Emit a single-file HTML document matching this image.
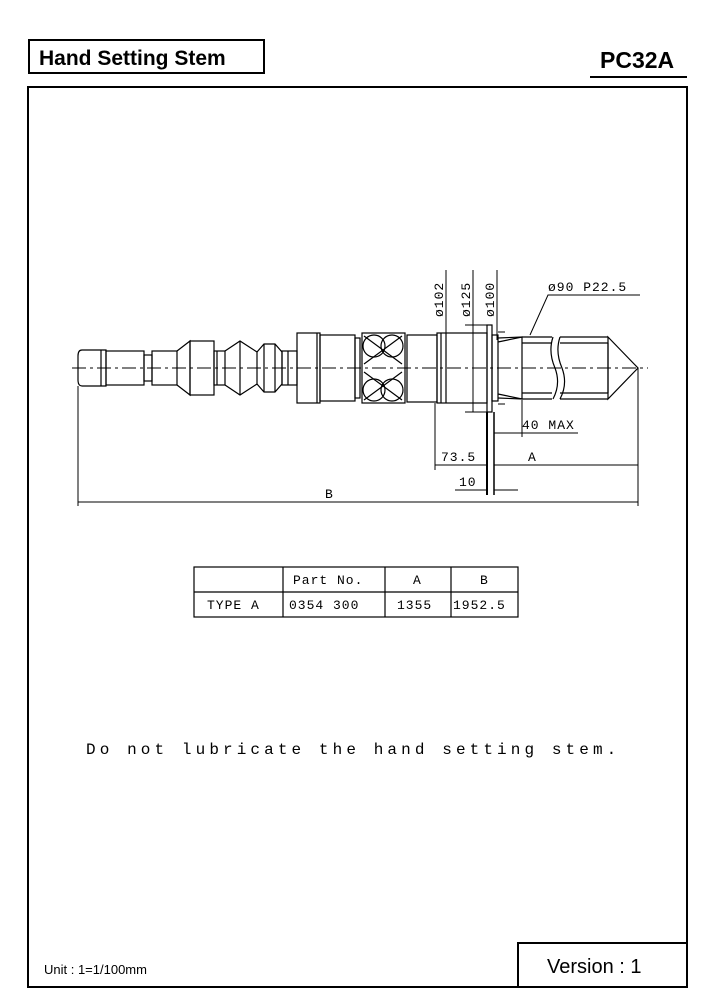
<!DOCTYPE html><html><head><style>body{margin:0;background:#fff}svg{display:block}</style></head><body>
<svg width="717" height="1000" viewBox="0 0 717 1000" xmlns="http://www.w3.org/2000/svg" font-family="Liberation Sans, sans-serif">
<rect x="29" y="40" width="235" height="33" fill="none" stroke="#000" stroke-width="2"/>
<text x="39" y="65" font-size="21" font-weight="bold">Hand Setting Stem</text>
<text x="600" y="68" font-size="23" font-weight="bold">PC32A</text>
<line x1="590" y1="77" x2="687" y2="77" stroke="#000" stroke-width="2"/>
<rect x="28" y="87" width="659" height="900" fill="none" stroke="#000" stroke-width="2"/>
<rect x="518" y="943" width="169" height="44" fill="none" stroke="#000" stroke-width="2"/>
<text x="547" y="973" font-size="20">Version :  1</text>
<text x="44" y="974" font-size="13">Unit  : 1=1/100mm</text>
<g fill="none" stroke="#000" stroke-width="1.2">
<line x1="72" y1="368" x2="648" y2="368" stroke-dasharray="14,4,3,4" stroke-width="1"/>
<path d="M82,350 H106 V386 H82 Q78,386 78,380 V356 Q78,350 82,350Z"/>
<line x1="101" y1="350" x2="101" y2="386"/>
<rect x="106" y="351" width="38" height="34"/>
<rect x="144" y="355" width="8" height="26"/>
<rect x="152" y="351" width="25" height="34"/>
<path d="M177,351 L190,341 V395 L177,385"/>
<rect x="190" y="341" width="24" height="54"/>
<rect x="214" y="351" width="11" height="34"/><line x1="217" y1="351" x2="217" y2="385"/>
<path d="M225,351 L240,341 L257,352 V384 L240,395 L225,385"/><line x1="240" y1="341" x2="240" y2="395"/>
<path d="M257,352 L264,344 H275 L282,352 V384 L275,392 H264 L257,384"/><line x1="264" y1="344" x2="264" y2="392"/><line x1="275" y1="344" x2="275" y2="392"/>
<rect x="282" y="351" width="15" height="34"/><line x1="288" y1="351" x2="288" y2="385"/>
<rect x="297" y="333" width="23" height="70"/><line x1="317" y1="333" x2="317" y2="403"/>
<rect x="320" y="335" width="35" height="66"/>
<rect x="355" y="338" width="5" height="60"/>
<rect x="362" y="333" width="43" height="70"/>
<circle cx="374" cy="346" r="11"/><circle cx="392" cy="346" r="11"/><circle cx="374" cy="390" r="11"/><circle cx="392" cy="390" r="11"/>
<path d="M364,336 L402,364 M402,336 L364,364 M364,372 L402,400 M402,372 L364,400"/>
<rect x="407" y="335" width="30" height="67"/>
<rect x="437" y="333" width="50" height="70"/><line x1="441" y1="333" x2="441" y2="403"/><line x1="446" y1="333" x2="446" y2="403"/>
<rect x="487" y="325" width="5" height="87"/>
<rect x="492" y="335" width="6" height="66"/>
<path d="M498,338 L522,337 V399 L498,398"/><path d="M498,342 L522,337 M498,394 L522,399"/>
<path d="M522,337 H552 M522,399 H552 M560,337 H608 M560,399 H608 M522,343 H552 M522,393 H552 M560,343 H608 M560,393 H608"/>
<path d="M553,337 Q548,352 555,368 Q561,384 553,399 M560,337 Q555,352 562,368 Q568,384 560,399"/>
<path d="M608,337 L638,368 L608,399 Z"/><line x1="608" y1="343" x2="608" y2="393"/>
</g>
<g stroke="#000" stroke-width="1" fill="none">
<line x1="446" y1="270" x2="446" y2="403"/><line x1="473" y1="270" x2="473" y2="412"/><line x1="497" y1="270" x2="497" y2="340"/>
<line x1="465" y1="325" x2="487" y2="325"/><line x1="465" y1="412" x2="487" y2="412"/>
<line x1="498" y1="332" x2="505" y2="332"/><line x1="498" y1="404" x2="505" y2="404"/>
<path d="M530,335 L548,295 H640"/>
<line x1="78" y1="386" x2="78" y2="506"/><line x1="638" y1="368" x2="638" y2="506"/>
<line x1="435" y1="403" x2="435" y2="470"/><line x1="487" y1="412" x2="487" y2="495" stroke-width="2"/><line x1="494" y1="412" x2="494" y2="495" stroke-width="1.5"/>
<line x1="522" y1="400" x2="522" y2="437"/>
<path d="M494,433 H522 M522,433 H578"/>
<path d="M435,465 H486 M494,465 H638"/>
<path d="M455,490 H487 M494,490 H518"/>
<line x1="78" y1="502" x2="638" y2="502"/>
</g>
<g font-family="Liberation Mono, monospace" font-size="13" letter-spacing="1">
<text transform="translate(443,317) rotate(-90)">ø102</text>
<text transform="translate(470,317) rotate(-90)">ø125</text>
<text transform="translate(494,317) rotate(-90)">ø100</text>
<text x="548" y="291">ø90 P22.5</text>
<text x="522" y="429">40 MAX</text>
<text x="441" y="461">73.5</text>
<text x="528" y="461">A</text>
<text x="459" y="486">10</text>
<text x="325" y="498">B</text>
</g>
<g stroke="#000" stroke-width="1.2" fill="none">
<rect x="194" y="567" width="324" height="50"/><line x1="194" y1="592" x2="518" y2="592"/>
<line x1="283" y1="567" x2="283" y2="617"/><line x1="385" y1="567" x2="385" y2="617"/><line x1="451" y1="567" x2="451" y2="617"/>
</g>
<g font-family="Liberation Mono, monospace" font-size="13" letter-spacing="1">
<text x="293" y="584">Part No.</text><text x="413" y="584">A</text><text x="480" y="584">B</text>
<text x="207" y="609">TYPE A</text><text x="289" y="609">0354 300</text><text x="397" y="609">1355</text><text x="453" y="609">1952.5</text>
</g>
<text x="86" y="754" font-family="Liberation Mono, monospace" font-size="16" letter-spacing="4.1">Do not lubricate the hand setting stem.</text>
</svg></body></html>
